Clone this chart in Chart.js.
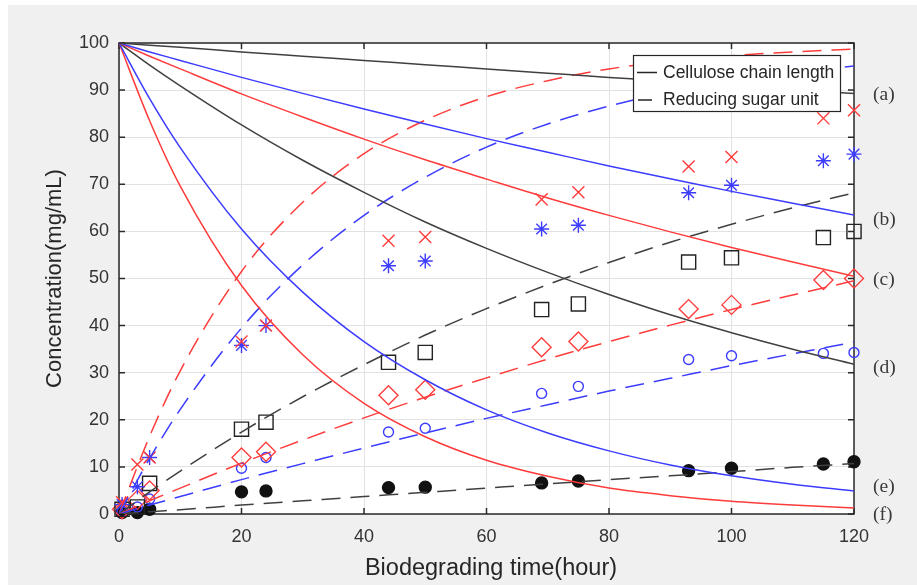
<!DOCTYPE html>
<html>
<head>
<meta charset="utf-8">
<script src="https://cdn.jsdelivr.net/npm/chart.js@4.4.0/dist/chart.umd.min.js"></script>
<style>
  html, body { margin: 0; padding: 0; background: #fff; }
  canvas { display: block; }
</style>
</head>
<body>
<canvas id="chart" width="917" height="585"></canvas>
<script>
// model curves
const curveHours = [0, 5, 10, 20, 30, 40, 50, 60, 70, 80, 90, 100, 110, 120];
const chainA = [100, 99.5, 99.1, 98.1, 97.2, 96.3, 95.4, 94.5, 93.6, 92.7, 91.9, 91.0, 90.1, 89.3];
const chainB = [100, 98.1, 96.3, 92.7, 89.3, 86.0, 82.8, 79.7, 76.8, 73.9, 71.2, 68.5, 66.0, 63.5];
const chainC = [100, 97.2, 94.5, 89.2, 84.3, 79.6, 75.2, 71.1, 67.1, 63.4, 59.9, 56.6, 53.5, 50.5];
const chainD = [100, 95.3, 90.9, 82.6, 75.1, 68.3, 62.0, 56.4, 51.3, 46.6, 42.3, 38.5, 35.0, 31.8];
const chainE = [100, 88.2, 77.8, 60.5, 47.1, 36.6, 28.5, 22.1, 17.2, 13.4, 10.4, 8.1, 6.3, 4.9];
const chainF = [100, 83.5, 69.6, 48.5, 33.8, 23.5, 16.4, 11.4, 8.0, 5.5, 3.9, 2.7, 1.9, 1.3];
const sugarA = [0, 0.5, 0.9, 1.9, 2.8, 3.7, 4.6, 5.5, 6.4, 7.3, 8.1, 9.0, 9.9, 10.7];
const sugarB = [0, 1.9, 3.7, 7.3, 10.7, 14.0, 17.2, 20.3, 23.2, 26.1, 28.8, 31.5, 34.0, 36.5];
const sugarC = [0, 2.8, 5.5, 10.8, 15.7, 20.4, 24.8, 28.9, 32.9, 36.6, 40.1, 43.4, 46.5, 49.5];
const sugarD = [0, 4.7, 9.1, 17.4, 24.9, 31.7, 38.0, 43.6, 48.7, 53.4, 57.7, 61.5, 65.0, 68.2];
const sugarE = [0, 11.8, 22.2, 39.5, 52.9, 63.4, 71.5, 77.9, 82.8, 86.6, 89.6, 91.9, 93.7, 95.1];
const sugarF = [0, 16.5, 30.4, 51.5, 66.2, 76.5, 83.6, 88.6, 92.0, 94.5, 96.1, 97.3, 98.1, 98.7];

// measured points
const sampleHours = [0.5, 3, 5, 20, 24, 44, 50, 69, 75, 93, 100, 115, 120];
const measCross = [2.5, 10.5, 12, 36.6, 40, 58, 58.8, 66.8, 68.3, 73.8, 75.8, 84, 85.7];
const measStar = [2, 5.8, 12, 35.8, 40, 52.7, 53.7, 60.5, 61.3, 68.2, 69.8, 75, 76.4];
const measSquare = [1, 1.5, 6.5, 18, 19.5, 32.2, 34.3, 43.4, 44.6, 53.5, 54.4, 58.7, 60];
const measDiamond = [1, 3, 5, 12, 13.2, 25.2, 26.4, 35.4, 36.6, 43.5, 44.4, 49.7, 50];
const measCircle = [0.5, 1.5, 3.2, 9.7, 12, 17.4, 18.2, 25.6, 27.1, 32.8, 33.6, 34.1, 34.3];
const measDot = [0.3, 0.3, 1, 4.7, 4.9, 5.6, 5.7, 6.6, 7, 9.2, 9.7, 10.6, 11.1];

const xTicks = [0, 20, 40, 60, 80, 100, 120];
const yTicks = [0, 10, 20, 30, 40, 50, 60, 70, 80, 90, 100];
const legendLabels = ['Cellulose chain length', 'Reducing sugar unit'];
const curveLabels = ['(a)', '(b)', '(c)', '(d)', '(e)', '(f)'];
const curveLabelAt = [89, 62.5, 49.7, 31, 5.7, -0.2];

const RED = '#ff3c3c', BLUE = '#3c3cff', BLACK = '#404040';
const FONT = "'Liberation Sans', Arial, sans-serif";

function curve(label, values, color, dashed) {
  return {
    label,
    data: curveHours.map((t, i) => ({ x: t, y: values[i] })),
    borderColor: color,
    borderWidth: 1.5,
    borderDash: dashed ? [19, 10] : [],
    pointRadius: 0,
    cubicInterpolationMode: 'monotone',
    fill: false
  };
}

function marks(label, values, color, style, radius, filled) {
  return {
    label,
    data: sampleHours.map((t, i) => ({ x: t, y: values[i] })),
    showLine: false,
    pointStyle: style,
    pointRadius: radius,
    pointBorderColor: color,
    pointBackgroundColor: filled ? color : 'rgba(0,0,0,0)',
    pointBorderWidth: 1.4,
    clip: false
  };
}

const decor = {
  id: 'decor',
  beforeDraw(chart) {
    const { ctx, chartArea: a } = chart;
    ctx.save();
    ctx.fillStyle = '#fff';
    ctx.fillRect(0, 0, chart.width, chart.height);
    ctx.fillStyle = '#f0f0f0';
    ctx.fillRect(8, 5, chart.width - 8, chart.height - 5);
    ctx.fillStyle = '#fff';
    ctx.fillRect(a.left, a.top, a.right - a.left, a.bottom - a.top);
    ctx.restore();
  },
  beforeDatasetsDraw(chart) {
    const { ctx, chartArea: a, scales: { x, y } } = chart;
    ctx.save();
    ctx.strokeStyle = '#2a2a2a';
    ctx.lineWidth = 1.5;
    ctx.strokeRect(a.left, a.top, a.right - a.left, a.bottom - a.top);
    ctx.beginPath();
    xTicks.forEach(v => {
      const px = x.getPixelForValue(v);
      ctx.moveTo(px, a.bottom); ctx.lineTo(px, a.bottom - 6);
      ctx.moveTo(px, a.top); ctx.lineTo(px, a.top + 6);
    });
    yTicks.forEach(v => {
      const py = y.getPixelForValue(v);
      ctx.moveTo(a.left, py); ctx.lineTo(a.left + 6, py);
      ctx.moveTo(a.right, py); ctx.lineTo(a.right - 6, py);
    });
    ctx.stroke();
    ctx.restore();
  },
  afterDraw(chart) {
    const { ctx, chartArea: a, scales: { y } } = chart;
    ctx.save();
    // axis titles
    ctx.fillStyle = '#262626';
    ctx.textAlign = 'center';
    ctx.textBaseline = 'middle';
    ctx.font = '23.5px ' + FONT;
    ctx.fillText('Biodegrading time(hour)', 491, 569);
    ctx.save();
    ctx.translate(55, (a.top + a.bottom) / 2);
    ctx.rotate(-Math.PI / 2);
    ctx.font = '22px ' + FONT;
    ctx.fillText('Concentration(mg/mL)', 0, 0);
    ctx.restore();

    // legend
    ctx.fillStyle = '#fff';
    ctx.fillRect(633.5, 55.5, 207, 56);
    ctx.strokeStyle = '#262626';
    ctx.lineWidth = 1.2;
    ctx.strokeRect(633.5, 55.5, 207, 56);
    ctx.lineWidth = 1.6;
    ctx.beginPath();
    ctx.moveTo(637, 72.5); ctx.lineTo(657, 72.5);
    ctx.moveTo(638, 100); ctx.lineTo(652, 100);
    ctx.stroke();
    ctx.fillStyle = '#262626';
    ctx.textAlign = 'left';
    ctx.font = '17.5px ' + FONT;
    ctx.fillText(legendLabels[0], 663, 73);
    ctx.fillText(legendLabels[1], 663, 100);

    // curve tags on the right
    ctx.font = "19.5px 'Liberation Serif', 'DejaVu Serif', serif";
    ctx.fillStyle = '#3a3a3a';
    curveLabels.forEach((t, i) => ctx.fillText(t, 873, y.getPixelForValue(curveLabelAt[i])));
    ctx.restore();
  }
};

const tickFont = { family: FONT, size: 18 };

new Chart(document.getElementById('chart'), {
  type: 'line',
  data: {
    datasets: [
      curve('chain a', chainA, BLACK, false),
      curve('chain b', chainB, BLUE, false),
      curve('chain c', chainC, RED, false),
      curve('chain d', chainD, BLACK, false),
      curve('chain e', chainE, BLUE, false),
      curve('chain f', chainF, RED, false),
      curve('sugar a', sugarA, BLACK, true),
      curve('sugar b', sugarB, BLUE, true),
      curve('sugar c', sugarC, RED, true),
      curve('sugar d', sugarD, BLACK, true),
      curve('sugar e', sugarE, BLUE, true),
      curve('sugar f', sugarF, RED, true),
      marks('x', measCross, RED, 'crossRot', 8.5, false),
      marks('*', measStar, BLUE, 'star', 7.5, false),
      marks('square', measSquare, '#222', 'rect', 10, false),
      marks('diamond', measDiamond, RED, 'rectRot', 9.5, false),
      marks('circle', measCircle, BLUE, 'circle', 5, false),
      marks('dot', measDot, '#111', 'circle', 6, true)
    ]
  },
  options: {
    responsive: false,
    animation: false,
    layout: { padding: { top: 43, right: 63, left: 0, bottom: 0 } },
    plugins: { legend: { display: false }, tooltip: { enabled: false } },
    scales: {
      x: {
        type: 'linear', min: 0, max: 120,
        afterBuildTicks: s => { s.ticks = xTicks.map(v => ({ value: v })); },
        ticks: { color: '#333', font: tickFont, padding: 12, maxRotation: 0 },
        grid: { color: '#e2e2e2', drawTicks: false },
        border: { display: false },
        afterFit: s => { s.height = 71; }
      },
      y: {
        min: 0, max: 100,
        afterBuildTicks: s => { s.ticks = yTicks.map(v => ({ value: v })); },
        ticks: { color: '#333', font: tickFont, padding: 10 },
        grid: { color: '#e2e2e2', drawTicks: false },
        border: { display: false },
        afterFit: s => { s.width = 119; }
      }
    }
  },
  plugins: [decor]
});
</script>
</body>
</html>
